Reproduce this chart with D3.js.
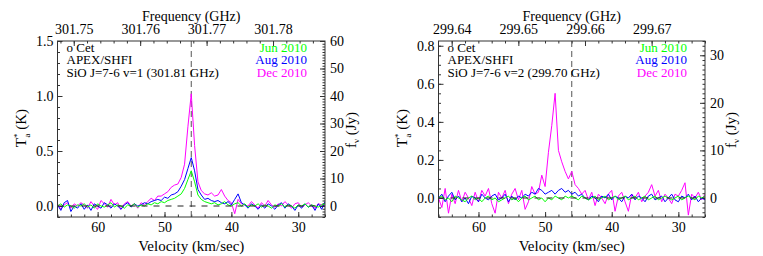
<!DOCTYPE html>
<meta charset="utf-8">
<style>
body { margin: 0; background: #fff; }
svg text, .tick text { font-family: "Liberation Serif", "Times New Roman", Times, "DejaVu Serif", serif; }
.tick text { font-size: 14px; fill: #000; }
.tick line { stroke: #333; }
.frame { fill: none; stroke: #333; stroke-width: 1; }
.spec { fill: none; stroke-width: 1; }
</style>
<body>
<script src="https://cdn.jsdelivr.net/npm/d3@7/dist/d3.min.js"></script>
<script>

// velocity channels (km/s), shared by both spectra
var velocity = [
  66, 65.5, 65, 64.5, 64, 63.5, 63, 62.5, 62, 61.5,
  61, 60.5, 60, 59.5, 59, 58.5, 58, 57.5, 57, 56.5,
  56, 55.5, 55, 54.5, 54, 53.5, 53, 52.5, 52, 51.5,
  51, 50.5, 50, 49.5, 49, 48.5, 48, 47.5, 47, 46.5,
  46, 45.5, 45, 44.5, 44, 43.5, 43, 42.5, 42, 41.5,
  41, 40.5, 40, 39.5, 39, 38.5, 38, 37.5, 37, 36.5,
  36, 35.5, 35, 34.5, 34, 33.5, 33, 32.5, 32, 31.5,
  31, 30.5, 30, 29.5, 29, 28.5, 28, 27.5, 27, 26.5,
  26
];

// SiO J=7-6 v=1, T*a (K)
var decV1 = [
  0.02, -0.03, 0.01, 0.03, -0.02, 0.02, 0.00, 0.03, 0.01, -0.02,
  0.04, 0.00, -0.03, 0.05, 0.02, -0.01, 0.06, 0.01, 0.03, -0.03,
  0.02, 0.04, 0.00, 0.02, -0.02, 0.03, 0.01, 0.04, 0.07, 0.05,
  0.09, 0.09, 0.11, 0.13, 0.17, 0.19, 0.20, 0.26, 0.38, 0.72,
  1.02, 0.55, 0.22, 0.14, 0.11, 0.10, 0.12, 0.09, 0.10, 0.15,
  0.09, 0.05, 0.03, -0.07, 0.06, 0.02, 0.01, 0.00, 0.04, 0.01,
  -0.02, 0.03, 0.00, 0.05, 0.01, -0.01, 0.02, 0.00, 0.04, 0.01,
  -0.02, 0.02, 0.03, -0.01, 0.01, 0.03, 0.00, -0.02, 0.02, 0.01,
  0.00
];
var augV1 = [
  0.01, -0.04, 0.03, 0.05, -0.05, 0.00, -0.02, 0.02, -0.03, 0.01,
  -0.04, 0.02, 0.00, -0.02, 0.03, 0.01, -0.02, 0.02, 0.00, -0.03,
  0.01, 0.03, -0.01, 0.02, 0.00, 0.01, 0.03, 0.02, 0.04, 0.05,
  0.06, 0.05, 0.08, 0.07, 0.10, 0.11, 0.13, 0.18, 0.24, 0.34,
  0.44, 0.32, 0.15, 0.10, 0.06, 0.07, 0.05, 0.04, 0.05, 0.03,
  0.02, 0.04, 0.01, 0.06, 0.11, 0.03, 0.01, -0.02, 0.02, 0.00,
  -0.03, 0.01, -0.02, 0.02, 0.00, -0.03, 0.01, 0.03, -0.02, 0.02,
  0.00, -0.04, 0.01, -0.02, 0.02, -0.01, 0.01, -0.04, 0.02, -0.03,
  0.04
];
var junV1 = [
  0.00, 0.02, -0.01, 0.01, 0.00, -0.02, 0.01, 0.00, 0.02, -0.01,
  0.01, -0.02, 0.02, 0.00, -0.01, 0.01, 0.03, -0.01, 0.01, 0.00,
  -0.02, 0.01, 0.00, 0.02, -0.01, 0.01, 0.00, 0.02, 0.01, 0.03,
  0.02, 0.04, 0.03, 0.05, 0.06, 0.07, 0.09, 0.11, 0.16, 0.24,
  0.32, 0.22, 0.10, 0.06, 0.04, 0.03, 0.02, 0.03, 0.01, 0.02,
  0.04, 0.01, 0.00, 0.02, 0.03, 0.00, 0.02, -0.01, 0.01, 0.00,
  0.02, -0.01, 0.01, 0.00, -0.02, 0.01, 0.00, 0.02, -0.01, 0.01,
  0.00, -0.02, 0.01, 0.00, 0.02, -0.01, 0.01, 0.00, -0.01, 0.01,
  0.02
];

// SiO J=7-6 v=2, T*a (K)
var decV2 = [
  0.00, -0.05, 0.05, -0.08, 0.02, -0.03, 0.04, -0.02, 0.03, 0.00,
  -0.04, 0.03, -0.02, 0.04, 0.01, 0.05, -0.03, -0.08, 0.03, 0.00,
  0.04, -0.03, 0.02, 0.05, -0.01, 0.04, -0.06, -0.02, 0.06, 0.02,
  0.03, 0.12, 0.06, 0.24, 0.38, 0.55, 0.25, 0.19, 0.14, 0.10,
  0.14, 0.07, 0.05, 0.02, 0.04, -0.01, 0.03, -0.04, 0.02, 0.00,
  -0.03, 0.02, 0.04, -0.07, 0.01, 0.03, -0.02, -0.07, 0.02, 0.00,
  0.03, -0.02, 0.01, 0.03, 0.07, 0.01, 0.04, -0.02, 0.02, 0.00,
  -0.03, 0.02, 0.01, 0.04, 0.08, -0.09, 0.02, 0.00, 0.03, -0.01,
  0.02
];
var augV2 = [
  0.00, 0.02, -0.02, 0.01, 0.03, -0.01, 0.01, -0.02, 0.00, -0.03,
  0.01, 0.00, -0.02, 0.02, 0.00, -0.01, 0.01, 0.02, -0.01, 0.00,
  0.02, -0.02, 0.01, -0.01, 0.01, 0.00, 0.02, 0.01, 0.03, 0.02,
  0.05, 0.04, 0.02, 0.03, 0.04, 0.02, 0.04, 0.05, 0.03, 0.04,
  0.02, 0.03, 0.01, 0.02, 0.00, -0.01, 0.01, 0.00, -0.02, 0.01,
  0.00, 0.02, -0.01, 0.01, 0.00, -0.02, 0.01, 0.00, 0.02, -0.01,
  0.01, 0.00, -0.02, 0.01, 0.02, -0.01, 0.00, 0.01, -0.02, 0.00,
  0.02, -0.01, -0.02, 0.01, 0.00, 0.02, -0.01, 0.01, -0.02, 0.00,
  -0.01
];
var junV2 = [
  0.00, 0.01, -0.01, 0.00, -0.02, 0.01, 0.00, -0.01, -0.02, 0.00,
  0.01, -0.01, 0.00, -0.02, 0.00, 0.01, -0.01, 0.00, -0.02, -0.01,
  0.00, 0.01, -0.01, 0.00, -0.02, 0.00, 0.01, -0.01, 0.00, 0.01,
  -0.01, 0.00, -0.02, 0.00, -0.01, 0.01, 0.00, -0.01, 0.01, 0.00,
  0.01, 0.00, -0.01, 0.01, 0.00, -0.01, 0.00, 0.01, -0.01, 0.00,
  0.01, -0.01, 0.00, 0.01, -0.01, 0.00, 0.01, -0.01, 0.00, 0.01,
  -0.01, 0.00, 0.01, -0.01, 0.00, 0.01, -0.01, 0.00, 0.01, 0.00,
  -0.01, 0.00, 0.01, -0.01, 0.00, 0.01, 0.00, -0.01, 0.01, 0.00,
  0.01
];

var epochs = ["Jun 2010", "Aug 2010", "Dec 2010"];
var epochColors = ["#00ff00", "#0000ff", "#ff00ff"];
var velTicks = [60, 50, 40, 30];
var freqTicksV1 = [301.75, 301.76, 301.77, 301.78];
var freqTicksV2 = [299.64, 299.65, 299.66, 299.67];
var tempTicksV1 = [0, 0.5, 1.0, 1.5];
var tempTicksV2 = [0, 0.2, 0.4, 0.6, 0.8];
var jyTicksV1 = [0, 10, 20, 30, 40, 50, 60];
var jyTicksV2 = [0, 10, 20, 30];

var width = 763, height = 256;
var plotTop = 41, plotBottom = 217;
var C = 299792.458;

var svg = d3.select("body").append("svg")
    .attr("width", width)
    .attr("height", height);

function drawPanel(p, idx) {
  var g = svg.append("g");

  var x = d3.scaleLinear().domain([66, 26]).range([p.x0, p.x1]);
  var xf = d3.scaleLinear()
      .domain([66, 26].map(function(v) { return p.f0 * (1 - v / C); }))
      .range([p.x0, p.x1]);
  var y = d3.scaleLinear().domain(p.yDomain).range([plotBottom, plotTop]);
  var yJy = d3.scaleLinear()
      .domain(p.yDomain.map(function(d) { return d * 40; }))
      .range([plotBottom, plotTop]);

  // minor ticks first, no labels
  function minor(axis, tr) {
    g.append("g").attr("transform", tr).call(axis.tickFormat("").tickSize(-2.5))
      .select(".domain").remove();
  }
  minor(d3.axisBottom(x).tickValues(x.ticks(20)), "translate(0," + plotBottom + ")");
  minor(d3.axisTop(xf).tickValues(xf.ticks(20)), "translate(0," + plotTop + ")");
  minor(d3.axisLeft(y).tickValues(y.ticks(p.yMinor)), "translate(" + p.x0 + ",0)");
  minor(d3.axisRight(yJy).tickValues(yJy.ticks(p.jyMinor)), "translate(" + p.x1 + ",0)");

  // major ticks
  g.append("g").attr("transform", "translate(0," + plotBottom + ")")
      .call(d3.axisBottom(x).tickValues(velTicks).tickSize(-5).tickPadding(5)
        .tickFormat(d3.format("d")))
      .select(".domain").remove();
  g.append("g").attr("transform", "translate(0," + plotTop + ")")
      .call(d3.axisTop(xf).tickValues(p.freqTicks).tickSize(-5).tickPadding(7)
        .tickFormat(d3.format(".2f")))
      .select(".domain").remove();
  g.append("g").attr("transform", "translate(" + p.x0 + ",0)")
      .call(d3.axisLeft(y).tickValues(p.tempTicks).tickSize(-5).tickPadding(4)
        .tickFormat(d3.format(".1f")))
      .select(".domain").remove();
  g.append("g").attr("transform", "translate(" + p.x1 + ",0)")
      .call(d3.axisRight(yJy).tickValues(p.jyTicks).tickSize(-5).tickPadding(5)
        .tickFormat(d3.format("d")))
      .select(".domain").remove();

  g.append("clipPath").attr("id", "clip" + idx)
    .append("rect")
      .attr("x", p.x0).attr("y", plotTop)
      .attr("width", p.x1 - p.x0).attr("height", plotBottom - plotTop);

  var plot = g.append("g").attr("clip-path", "url(#clip" + idx + ")");

  // systemic velocity marker
  plot.append("line")
      .attr("x1", x(46)).attr("x2", x(46))
      .attr("y1", plotTop).attr("y2", plotBottom)
      .attr("stroke", "#555").attr("stroke-dasharray", "6,4");

  var line = d3.line()
      .x(function(d, i) { return x(velocity[i]); })
      .y(function(d) { return y(d); });

  // Dec, Aug, Jun drawn in that order
  [2, 1, 0].forEach(function(k) {
    plot.append("path")
        .attr("class", "spec")
        .attr("stroke", epochColors[k])
        .attr("d", line(p.series[k]));
  });

  plot.append("line")
      .attr("x1", p.x0).attr("x2", p.x1)
      .attr("y1", y(0)).attr("y2", y(0))
      .attr("stroke", "#222").attr("stroke-dasharray", "6,6");

  g.append("rect").attr("class", "frame")
      .attr("x", p.x0).attr("y", plotTop)
      .attr("width", p.x1 - p.x0).attr("height", plotBottom - plotTop);

  var cx = (p.x0 + p.x1) / 2;
  g.append("text").attr("x", cx).attr("y", 21)
      .attr("text-anchor", "middle").style("font-size", "14px")
      .text("Frequency (GHz)");
  g.append("text").attr("x", cx).attr("y", 251)
      .attr("text-anchor", "middle").style("font-size", "15px")
      .text("Velocity (km/sec)");

  var ty = g.append("text")
      .attr("transform", "translate(" + (p.x0 - 31.5) + ",128) rotate(-90)")
      .attr("text-anchor", "middle").style("font-size", "15px");
  ty.append("tspan").text("T");
  ty.append("tspan").attr("dy", -6).style("font-size", "9px").text("*");
  ty.append("tspan").attr("dx", -4).attr("dy", 10).style("font-size", "9px").text("a");
  ty.append("tspan").attr("dy", -4).text(" (K)");

  var tf = g.append("text")
      .attr("transform", "translate(" + (p.x1 + 31) + ",130) rotate(-90)")
      .attr("text-anchor", "middle").style("font-size", "15px");
  tf.append("tspan").text("f");
  tf.append("tspan").attr("dy", 3).style("font-size", "9px").text("\u03bd");
  tf.append("tspan").attr("dy", -3).text(" (Jy)");

  var info = ["o Cet", "APEX/SHFI", p.line];
  info.forEach(function(t, i) {
    g.append("text").attr("x", p.x0 + 9).attr("y", 52 + i * 12.3)
        .style("font-size", "13px").text(t);
  });
  epochs.forEach(function(t, i) {
    g.append("text").attr("x", p.x1 - 18).attr("y", 52 + i * 12.3)
        .attr("text-anchor", "end").attr("fill", epochColors[i])
        .style("font-size", "13px").text(t);
  });
}

drawPanel({
  x0: 57.5, x1: 325, f0: 301.814,
  yDomain: [-0.1, 1.5], yMinor: 16, jyMinor: 64,
  freqTicks: freqTicksV1, tempTicks: tempTicksV1, jyTicks: jyTicksV1,
  line: "SiO J=7-6 v=1 (301.81 GHz)",
  series: [junV1, augV1, decV1]
}, 0);

drawPanel({
  x0: 438.5, x1: 705, f0: 299.704,
  yDomain: [-0.1, 0.825], yMinor: 18, jyMinor: 37,
  freqTicks: freqTicksV2, tempTicks: tempTicksV2, jyTicks: jyTicksV2,
  line: "SiO J=7-6 v=2 (299.70 GHz)",
  series: [junV2, augV2, decV2]
}, 1);

</script>
</body>
